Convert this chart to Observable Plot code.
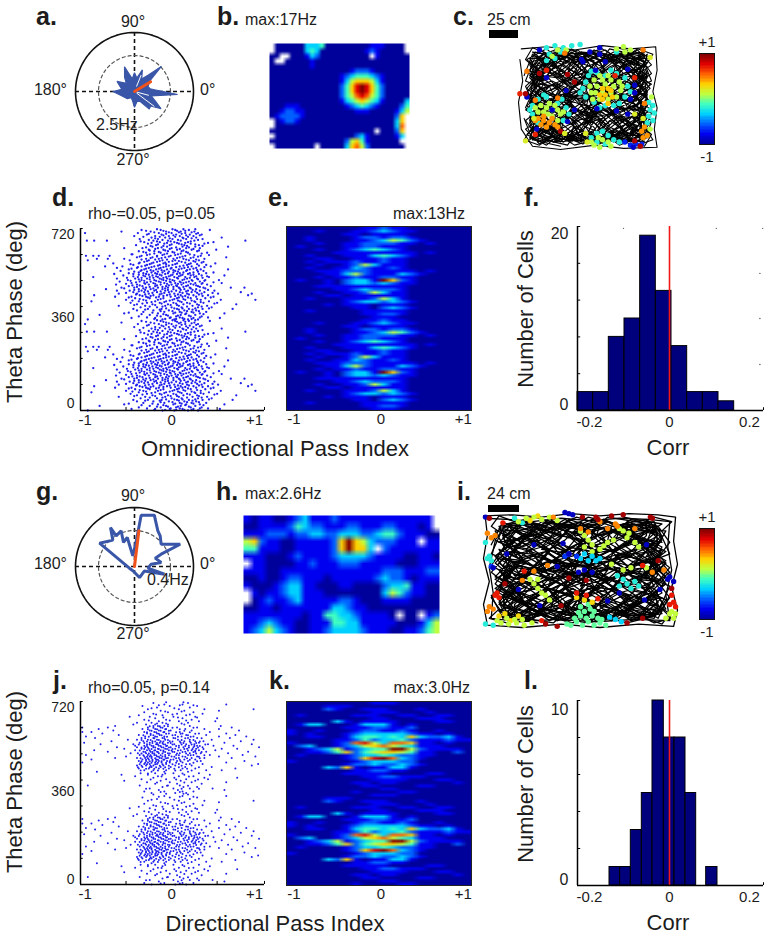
<!DOCTYPE html>
<html><head><meta charset="utf-8">
<script src="https://cdn.jsdelivr.net/npm/d3@7"></script>
<script src="https://cdn.jsdelivr.net/npm/@observablehq/plot@0.6"></script>
<style>
html,body{margin:0;background:#fff}
#page{position:relative;width:769px;height:938px;overflow:hidden;font-family:"Liberation Sans",Arial,sans-serif;color:#1c1c1c}
#page svg{position:absolute;overflow:visible;background:transparent}
.t{position:absolute;white-space:nowrap;line-height:1}
.bar{position:absolute;background:#000}
</style></head><body><div id="page"></div>
<script>
// ---------- polar panels a, g ----------
const polarThetaA=[0,356,345,335,327,318,310,300,285,270,255,240,225,210,195,180,170,150,135,125,112,100,90,80,70,60,50,43,35,20,10,5];
const polarRateA=[2.0,3.0,1.2,1.6,2.2,1.5,1.6,.8,.7,1.1,.6,.5,.7,.8,1.0,1.5,.9,1.4,.8,1.2,1.85,.9,1.3,.95,1.6,1.0,1.5,2.55,1.3,1.0,1.1,1.4];
const polarThetaG=[86,82.6,68.7,66.4,56.8,50,40,26,24.8,22,8.5,8,353,345.7,335,294.4,249,198,146.3,129.4,121.6,120.9,110.5,114.6,104,99];
const polarRateG=[.285,.575,.61,.574,.474,.444,.386,.565,.326,.248,.3,.187,.15,.344,.12,.135,.05,.06,.467,.379,.509,.397,.424,.294,.332,.12];
const vectorA={theta:31,rate:1.31}, vectorG={theta:83,rate:.4};
// ---------- rate maps b, h (digit = colour level, "." = unvisited) ----------
const mapB=[
".00000033340000000001110000.",
".00000034300000000012100000.",
"00..0001320000000000.1000000",
"0..00000100000000000000000000",
"0000000010000000000000000000",
"0000000000000000122210000000",
"0000000000000012344432100000",
"0000000000000013566653100000",
"0000000000000024689864200000",
"0000000000000024689864200000",
"0000000000000024578754200000",
"0000000000000013456543100003",
"0001110000000001234321000024",
"0012211000000000011100000135",
"012222100000000000000000026.",
".01221000000000000000000036.",
".00000000000000000000000037.",
"000000000000000000000.00026.",
".00000000000000002310000013.",
"00000000000000025641000000..",
".00000000.00000367520000000."];
const mapH=[
"10110012311121111111111111.",
"00111124322111221112211101.",
"111222122332233322344211100",
"562110011111269653222111.11",
"441110011111269663.21111111",
"111000121111233332111100110",
".11000011211122211111000111",
"111001111111111111122211122",
"001001221110111111232210111",
"100012331100011000023341100",
".10112331110000000035421100",
".01211231111122100011110000",
"001101111111332110000000000",
"111111110114433211110.00.12",
"112321100111443311111000135",
"123532100112333321110011245"];
// ---------- trajectories c, i: first part runs along the walls, the rest crosses the arena ----------
const wallC="2,5 20,3 40,6 60,2 80,5 98,3 99,25 96,45 99,60 97,80 99,97 75,98 55,95 30,99 10,96 2,80 0,55 3,35 1,15";
const pathC="12,12 25,22 18,35 8,28 15,48 30,40 22,60 10,65 14,82 28,72 40,85 25,92 48,90 38,70 50,60 62,75 55,88 70,90 85,80 72,65 88,55 78,40 92,30 80,18 90,8 70,12 58,25 68,35 50,30 42,15 55,8 35,10 28,28 42,38 32,52 45,48 58,52 48,70 60,62 75,72 65,85 80,92 92,88 85,70 95,62 82,50 70,55 62,42 75,28 88,22 78,8 62,15 48,22 38,32 22,18 10,22 20,42 8,50 18,70 6,85 20,95 32,82 45,92 52,78 42,62 30,75 22,88 35,60 25,50 40,45 52,40 65,50 72,40 85,38 92,48 80,62 68,72 78,85 90,78 96,90 85,95 70,82 58,92 48,82 38,92 28,82 18,90 8,75 16,58 28,62 38,52 50,50 60,60 70,48 80,55 90,42 82,28 70,20 58,12 45,18 32,8 20,12 8,18 18,28 30,20 42,28 55,32 65,22 78,14 92,14 85,30 72,32 60,38 48,35 35,42 24,35 12,40 5,60 15,72 25,80 35,88 45,75 55,70 65,80 75,92 88,85 95,72 85,62 75,55 65,65 55,55 45,62 35,68 25,58 15,52 6,42 14,30 25,12 38,18 50,12 62,6 75,18 88,12 95,35 82,42 70,35 58,45 46,55 34,46 22,52 12,62 20,78 32,92 44,85 54,94 66,88 78,78 90,68 84,46 74,48 64,58 52,65 42,80 30,68 18,82 10,90 4,70";
const wallI="0,3 15,2 30,4 45,1 60,3 75,1 90,2 99,4 98,25 100,45 97,65 100,85 98,99 80,97 60,100 40,97 20,100 2,98 0,80 3,60 0,40 2,20 1,5 12,6 25,8 40,5 55,7 70,5 85,6 96,8 95,30 97,50 94,72 96,94 78,93 58,95 38,93 18,95 4,92 5,70 3,48 6,25";
const pathI="14,14 28,28 18,40 8,32 16,55 32,48 24,68 10,72 18,88 34,78 46,90 30,60 44,52 58,66 48,82 64,88 76,74 62,60 78,52 68,38 84,30 74,16 90,12 72,10 60,22 70,32 54,36 46,18 58,10 38,14 30,30 46,42 36,58 50,54 64,50 54,72 66,66 82,76 72,88 88,92 92,78 84,62 94,56 86,42 74,46 66,34 80,22 92,26 82,10 66,16 52,24 42,34 26,20 12,26 22,44 10,54 20,74 8,86 24,92 36,86 50,92 58,80 46,66 34,80 26,90 40,62 28,52 44,46 56,40 70,52 78,42 90,40 96,52 84,68 72,78 82,90 92,84 97,92 88,96 74,84 62,94 52,84 42,94 32,84 20,92 10,78 18,60 32,66 42,54 54,52 64,62 74,50 84,58 94,44 86,30 74,22 62,14 48,20 36,8 22,14 10,20 20,30 32,22 44,30 56,34 66,24 80,16 94,16 88,34 76,36 64,42 52,46 38,44 26,38 14,44 6,62 16,76 26,84 36,92 46,78 56,72 66,82 76,94 90,88 96,74 86,52 76,58 66,68 56,58 46,64 36,70 26,60 16,54 8,44 16,32 26,14 40,20 52,14 64,8 76,20 90,14 96,36 84,44 72,36 60,46 48,56 36,48 24,54 14,64 22,80 34,94 44,86 54,96 68,90 80,80 92,70 84,48 74,50 64,60 52,68 42,82 30,70 18,84 10,92 4,72";
const spikesC=[
[-.2,"50,30 56,27 62,30 70,28 76,32 78,40 76,50 72,56 62,58 54,55 48,50 46,42 48,36 52,26 66,25 80,45 44,46 58,60 68,58 10,58 14,52 20,50 28,56 34,60 36,66 32,72 10,66 14,74 24,62 8,62 18,48 31,52 20,4 26,2 32,4 38,2 44,1 22,10 30,8 26,14 20,16 70,8 52,88 56,84 60,82 64,86 68,90 72,92 56,92 62,94 93,55 96,58 94,62 97,65 93,68 96,72 92,74"],
[.1,"54,34 60,34 66,34 72,36 73,44 70,50 64,52 58,52 52,46 51,40 56,40 62,38 68,40 60,46 66,46 55,46 58,30 64,30 74,40 53,52 16,58 22,56 28,62 18,64 24,68 30,66 14,64 28,72 12,60 20,60 26,58 32,64 21,66 28,6 34,6 24,12 70,5 75,3 80,6 76,8 54,95 60,90 66,96 52,92 58,97 64,92 57,88 95,50 94,80"],
[.35,"60,42 64,42 62,48 67,50 60,52 64,56 58,48 66,44"],
[.45,"14,70 18,72 22,74 26,76 16,76 20,78 24,70 28,78 18,68 12,72 90,78 88,82 92,86 89,88"],
[-.7,"76,92 80,95 84,94 88,94"],
[-.88,"82,97 15,6 45,15 51,8 58,4 46,17 58,10 62,17 55,25 78,24 20,32 34,44 35,73 24,62 13,80 83,39 83,46 80,52 70,63 78,66 56,61 40,62 6,50"],
[.9,"15,28 35,29 40,36 5,47 30,82 83,91 87,96"],
[.7,"20,25 1,47 12,85 69,30 83,32"],
[.5,"6,26 12,53 28,51 89,6 90,56 33,9"],
[.2,"94,13 11,70 33,84 5,91 48,84 49,92 83,66 89,70"]];
const spikesI=[
[-.05,"45,98 48,95 51,98 54,95 57,98 60,96 63,98 47,92 50,90 53,92 56,90 59,92 52,86 55,84 50,82 54,80 57,86 43,97 61,93 49,87"],
[.3,"52,76 48,74 56,78 8,90 11,88 14,94 18,90 24,7 28,3"],
[-.2,"1,97 5,98 16,5 20,9 1,26 2,40 4,42 3,38 74,62 78,60 72,58 76,66 80,64 70,64 69,55"],
[.12,"9,96 13,97 17,96 21,98 25,96 12,92 16,93 22,5 26,4 30,6 34,4 38,7 18,8 50,16 52,20 54,24 56,28 52,30 56,34 62,29 64,26 60,32 67,24 72,16 75,18 70,14 74,22 78,26 80,30 24,58 26,62 28,66 30,70 32,72 34,76 28,58 66,45 72,50 76,48 84,48 96,88 94,92 98,92 97,86 99,88 7,94 20,93"],
[.48,"50,14 54,17 64,14 68,10 60,8 2,18 4,22 6,20 3,82 5,84 2,86 26,51 33,46 87,52 93,50 69,12 78,14 20,59 36,4"],
[-.32,"52,36 56,38 50,40 54,42 58,42 60,40 68,93 71,95 65,91"],
[-.65,"44,36 42,38 48,38 4,47"],
[-.9,"52,50 56,52 49,52 44,1 42,0 46,2 96,56 98,60 95,58 12,36 26,28 41,27 44,36 38,47 18,67 29,81 64,77 70,70 83,76 91,67 84,28 5,48 1,4"],
[.72,"10,9 30,94 98,78 96,80 99,82 7,70 8,74 6,72 48,70 53,72 21,51 82,46 97,72 59,75"],
[.92,"51,4 58,4 66,3 72,2 86,4 59,6 3,5 11,62 44,57 53,59 90,42 97,66 40,81 32,97 38,99 74,96 82,92 87,5"]];
// ---------- pass-index scatter d, j: [phase, pass index x100 ...] for one theta cycle, drawn over two cycles ----------
const scatterD=[[0,-92,-10,3,18,29],[6,-44,-18,-2,12,24,53],[12,-36,-12,5,21,33],[18,-24,-6,10,26,-79],[24,-52,-15,2,16,31,58],[30,-31,-8,9,22,38],[36,-20,-3,14,27,-38],[42,-42,-26,-11,6,19,34,67],[48,-34,-16,0,11,29,44],[54,-58,-29,-7,8,23,39],[60,-38,-21,-4,13,28,71],[66,-45,-27,-13,2,17,35,50],[72,-36,-18,-6,9,25,41,-88],[78,-50,-31,-15,1,15,32,54,92],[84,-40,-24,-9,6,21,37],[90,-62,-44,-28,-14,-1,12,27,46],[96,-35,-20,-5,10,24,40,-85,84],[102,-58,-38,-25,-11,3,17,33,51,88],[108,-42,-30,-16,-3,9,22,36,76],[114,-60,-46,-33,-19,-7,5,18,31,47],[120,-36,-23,-10,2,14,27,-72],[126,-55,-41,-28,-15,-4,8,20,35,65,80],[132,-47,-32,-18,-6,6,16,29,43],[138,-61,-38,-25,-12,0,11,24,39],[144,-44,-30,-20,-8,4,13,26,34,55],[150,-57,-35,-23,-14,-2,9,19,31],[156,-48,-33,-19,-9,1,12,22,37,52],[162,-60,-40,-27,-13,-5,7,17,28],[168,-37,-24,-15,-6,3,15,25,41,-86],[174,-53,-31,-21,-11,-1,10,21,33,58],[180,-63,-42,-28,-16,-7,6,18,30],[186,-36,-22,-10,2,13,24,46],[192,-56,-34,-20,-8,4,16,35],[198,-47,-30,-17,-5,8,20,32,62],[204,-60,-38,-25,-12,0,14,27],[210,-54,-33,-19,-6,9,22,43,-73],[216,-42,-27,-13,1,17,38],[222,-64,-36,-22,-9,6,21,48],[228,-30,-16,-3,11,26,35],[234,-46,-25,-10,4,19,30,-92],[240,-52,-28,-14,2,13,36,-82,-70],[246,-38,-21,-7,9,24,60],[252,-94,-86,-80,-68,-33,-16,-1,15,32],[258,-43,-24,-8,7,20,-44],[264,-28,-12,3,18,39],[270,-36,-19,-4,11,28],[276,-25,-9,6,22,49],[282,-32,-15,0,16,31,-52],[288,-21,-5,12,26,62],[294,-39,-17,-2,14,30],[300,-26,-8,8,21,36],[306,-30,-13,3,18,46],[312,-93,-85,-71,-20,-4,10,25,81],[318,-35,-15,1,16,34],[324,-22,-7,12,27,55],[330,-41,-18,-3,9,24],[336,-27,-11,5,20,33],[342,-37,-14,0,15,29,-95],[348,-23,-6,10,25,-55],[354,-33,-12,4,19,42],
[2,-7,5,14,-19,22],[8,-27,-1,9,31,40],[15,-16,-4,7,19],[21,-33,-9,15,35],[27,-21,4,11,24,-47],[33,-12,1,17,30],[39,-29,-13,8,23],[44,-6,3,12,26,41],[51,-24,-10,17,33],[57,-41,-18,-1,6,30],[63,-32,-11,5,20,47],[69,-22,-8,11,26,32],[75,-43,-28,-2,7,22],[81,-35,-12,3,13,28],[87,-47,-26,-17,8,18,43],[93,-32,-23,-9,4,15,34],[99,-39,-29,-13,-2,7,19,30],[105,-50,-21,-8,12,28,45],[111,-36,-26,-12,0,16,26],[117,-41,-29,-17,-4,10,23,40],[123,-52,-31,-20,-7,9,21,37],[129,-38,-24,-10,2,13,31],[135,-43,-35,-16,-3,5,18,27],[141,-50,-29,-18,-5,7,21,33],[147,-39,-27,-12,-1,10,16,46],[153,-45,-30,-17,-6,3,23,36],[159,-36,-24,-11,-2,14,29],[165,-49,-33,-20,-9,6,20,34],[171,-42,-29,-17,-3,8,27,39],[177,-36,-25,-13,1,12,24],[183,-47,-31,-18,-4,9,20,38],[189,-41,-27,-15,-3,7,29],[195,-33,-23,-11,2,17,28],[201,-44,-28,-14,-1,11,24],[207,-37,-22,-9,5,18,36],[213,-29,-15,-3,13,30],[219,-45,-24,-6,4,19,28],[225,-35,-20,-7,15,33],[231,-27,-13,1,8,24],[237,-33,-18,-5,16,27],[243,-23,-11,6,21],[249,-35,-16,-3,12,29],[255,-27,-10,4,25,41],[261,-19,-5,10,33],[267,-31,-14,1,16],[273,-24,-7,13,30],[279,-18,-2,9,24],[285,-28,-11,5,19],[291,-23,-9,17,34],[297,-15,0,11,26],[303,-22,-5,6,15,40],[309,-34,-16,-1,21],[315,-25,-10,7,29],[321,-18,-2,13,22],[327,-31,-13,4,18],[333,-9,2,16,31],[339,-25,-6,11,27],[345,-19,-3,8,22],[351,-28,-9,6,15],[357,-16,1,13,26]];
const scatterJ=[[0,-22,4,16],[6,-30,-8,12,24],[12,-14,7,58],[18,-24,2,20,45],[24,-10,13,28],[30,-35,-4,9,-92],[36,-18,6,33],[42,-27,-2,22,60],[48,-12,10,26,-52],[54,-33,-6,16,40],[60,-20,3,36,72],[66,-40,-15,8,24],[72,-26,-10,14,42,-55],[78,-34,-18,2,30],[84,-22,-8,18,-82],[90,-30,-20,-6,10,38,55],[96,-36,-25,-14,-3,12,26,70],[102,-32,-22,-12,-1,15,44],[108,-38,-28,-20,-9,4,22,88],[114,-30,-24,-16,-6,8,20,34,95],[120,-34,-26,-18,-11,-2,12,60,-98],[126,-36,-28,-21,-14,-5,6,18,32,80],[132,-32,-25,-17,-8,2,14,26,-88],[138,-38,-29,-22,-13,-4,8,22,36,66,-62],[144,-30,-24,-16,-10,0,12,28,52,92,-50],[150,-35,-26,-19,-7,5,18,24,42,78,-94],[156,-37,-28,-21,-14,-4,9,20,32,62,-45],[162,-31,-23,-16,-9,1,15,26,38,84,-70],[168,-40,-27,-18,-12,-3,10,22,30,48,-85],[174,-33,-25,-15,-7,4,17,27,55,72,-52],[180,-38,-29,-20,-11,-1,13,24,34,96,-60],[186,-30,-22,-14,-5,8,19,28,46,68,-40],[192,-42,-27,-17,-9,3,16,25,40,88,-78],[198,-35,-24,-13,-4,10,21,30,58,-96],[204,-31,-21,-12,-2,14,26,35,76,-66],[210,-38,-26,-16,-7,7,20,44,90,-48],[216,-33,-20,-10,2,18,28,64,-84],[222,-29,-18,-8,11,24,52,82,-94],[228,-36,-23,-13,4,16,38,70,-58],[234,-27,-16,-3,12,30,60,-76],[240,-30,-19,-8,9,42,-88,-98],[246,-24,-14,-1,22,74,-64],[252,-32,-18,-6,15,36,52,-80],[258,-26,-12,6,28,66,-98,-70],[264,-20,-15,-8,20,54,-62],[270,-28,-18,-4,14,-42],[276,-22,-10,18,-38],[282,-14,8,30,48],[288,-30,-6,22],[294,-18,12,50],[300,-24,2,26,-46],[306,-10,16,-36],[312,-20,6,34],[318,-30,-4,24],[324,-12,14,52],[330,-26,8,36,90],[336,-16,20],[342,-32,-2,28],[348,-8,12,60],[354,-20,18],
[4,-12,9],[17,-28,11,30],[29,-5,18],[41,-16,14],[53,-23,5,29],[65,-11,19],[77,-26,-7,12],[89,-34,-15,4,22],[95,-28,-19,-9,3,17],[101,-37,-24,-17,-7,8,30],[107,-33,-23,-13,-3,11],[113,-35,-27,-18,-10,1,16],[119,-29,-22,-15,-6,5,24],[125,-33,-24,-17,-11,-2,10,28],[131,-28,-21,-15,-9,-1,9,20],[137,-34,-26,-18,-11,-6,5,17,31],[143,-27,-22,-14,-7,3,15,30],[149,-31,-23,-17,-12,-3,8,21,36],[155,-33,-25,-19,-10,-2,6,16,27],[161,-29,-21,-15,-7,3,12,24,33],[167,-35,-24,-19,-9,0,7,18,26],[173,-30,-22,-14,-5,1,14,23,35],[179,-33,-26,-18,-9,-3,8,19,29],[185,-27,-20,-12,-6,5,15,25,31],[191,-36,-24,-15,-7,1,11,22,37],[197,-30,-21,-16,-10,-1,13,27],[203,-27,-18,-9,1,9,20,31],[209,-33,-23,-14,-4,11,24],[215,-29,-19,-8,4,15,33],[221,-25,-16,-5,7,21],[227,-31,-20,-11,1,18],[233,-23,-14,-6,10,26],[239,-27,-17,-9,5,20],[245,-22,-12,-3,14],[251,-26,-16,-7,9],[257,-20,-10,1,24],[263,-24,-13,-4],[273,-16,-6,11],[285,-25,-2,16],[297,-9,7,28],[309,-17,1,20],[321,-7,11],[333,-22,3],[345,-14,9,24],[357,-6,13]];
// ---------- phase/pass rate maps e, k: one theta cycle, drawn over two cycles ----------
const rateE=["00000 00011 21100 00000","00010 00112 32110 00000","00000 01101 11100 00000","00100 00122 12210 00000","00100 00112 35421 00000","00010 01122 22110 10000","01000 01122 11100 00000","00010 01234 32100 00000","00000 11111 11110 10000","00100 01113 43210 00000","00011 00111 21100 00000","00101 11211 21100 00000","00010 01253 11100 00000","00100 11321 12100 00000","00011 12221 11110 10000","00001 13521 11321 00000","00010 11211 22110 00000","01001 02331 96210 00000","00001 02332 32110 00000","00011 11111 11100 00000","00000 11232 22100 00000","00010 01125 31100 00000","00001 10111 11100 00000","00100 01112 53100 00000","00000 01233 23210 00000","00001 01110 11100 00000","00000 00110 23210 00000","00100 00011 11100 00000","00000 00011 22100 00000","00000 00001 11000 00000"];
const rateK=["00000 00001 11000 00000","00001 11000 00000 00000","00002 10011 10001 00000","00000 00001 11000 10000","01000 00111 00110 01100","00000 00001 10001 11000","00000 31011 11000 01100","01330 00133 31010 00000","00000 01112 21120 00000","10010 00122 11210 01000","10100 01233 33321 10100","00110 01344 34363 22310","00000 11242 33421 11211","10000 12785 37761 10100","02300 12356 75431 11000","00123 51234 49952 11110","00112 46245 66541 10020","01000 01233 43221 10000","00000 01268 97321 00000","10000 00123 33220 00000","00000 01223 22321 00000","00003 26101 13310 00000","00000 00112 21100 00000","00000 01111 10000 11000","00000 00011 22111 00000","00000 00001 11100 01100","00000 00110 11000 00010","00000 00011 00001 10000","00000 00000 11000 00000","00000 00100 00110 00000"];
// ---------- histograms f, l ----------
const edgesF=[-.23,-.1908,-.1517,-.1125,-.0733,-.0342,.005,.0442,.0833,.1225,.1617];
const countsF=[2,2,8,10,19,13,7,2,2,1];
const edgesL=[-.15,-.1233,-.0967,-.0692,-.0425,-.0142,.0125,.04,.0667,.0917,.12];
const countsL=[1,1,3,5,10,8,8,5,0,1];
const passTicks=[["-1",-.95],["0",0],["+1",.91]];
const rateTicks=[["-1",-.92],["0",.02],["+1",.91]];
const corrTicks=[["-0.2",-.2],["0",0],["0.2",.2]];
const phaseTicks=[["0",28],["360",366],["720",697]];
const phaseTicksJ=[["0",20],["360",366],["720",696]];
const cellTicksF=[["0",.65],["20",19.2]], cellTicksL=[["0",.32],["10",9.5]];
const phaseMinor=[0,103,206,309,411,514,617,720];

// ---------- shared ----------
const page=document.getElementById("page");
const BG={fontFamily:"'Liberation Sans',Arial,sans-serif",fontSize:"14px",color:"#1c1c1c",background:"transparent",overflow:"visible"};
const jet={type:"linear",domain:[0,1,2,3,4,5,6,7,8,9],range:["#00009a","#0000f0","#0060ff","#00d0ff","#40ffc0","#c0ff40","#ffd000","#ff6000","#e00000","#800000"]};
function place(opts,left,top){const s=Plot.plot({style:BG,...opts});s.style.left=left+"px";s.style.top=top+"px";page.appendChild(s);return s;}
const digits=rows=>rows.flatMap(r=>[...r.replace(/ /g,"")].map(c=>c==="."?NaN:+c));
const lookup=t=>{const m=new Map(t.map(([s,v])=>[v,s]));return d=>m.get(d);};
const tickAt=t=>t.map(d=>d[1]);
const rad=d=>d*Math.PI/180;

function polar(theta,rate,vec,dashHz,filled,cx,cy,spokes){
  const R=59,rmax=dashHz*R/36,ring=d3.range(0,361,3);
  const pts=[...theta.map((t,i)=>({t,r:rate[i]})),{t:theta[0],r:rate[0]}];
  const X=d=>d.r*Math.cos(rad(d.t)),Y=d=>d.r*Math.sin(rad(d.t));
  place({width:2*R,height:2*R,margin:0,x:{domain:[-rmax,rmax],axis:null},y:{domain:[-rmax,rmax],axis:null},marks:[
    Plot.ruleX([0],{stroke:"#111",strokeWidth:1.6,strokeDasharray:"4,3"}),
    Plot.ruleY([0],{stroke:"#111",strokeWidth:1.6,strokeDasharray:"4,3"}),
    Plot.line(ring,{x:t=>dashHz*Math.cos(rad(t)),y:t=>dashHz*Math.sin(rad(t)),stroke:"#555",strokeWidth:1.2,strokeDasharray:"3,3"}),
    Plot.line(ring,{x:t=>rmax*Math.cos(rad(t)),y:t=>rmax*Math.sin(rad(t)),stroke:"#111",strokeWidth:1.6}),
    Plot.line(pts,{x:X,y:Y,stroke:"#3a56a8",strokeWidth:filled?1.2:3,fill:filled?"#3a56a8":"none",curve:"linear",strokeLinejoin:"miter"}),
    ...(spokes||[]).map(s=>Plot.line([{t:s[0],r:s[1]},{t:s[0],r:s[2]}],{x:X,y:Y,stroke:"#fff",strokeWidth:1})),
    Plot.line([{t:vec.theta,r:0},{t:vec.theta,r:vec.rate}],{x:X,y:Y,stroke:"#f0521c",strokeWidth:3})
  ]},cx-R,cy-R);
}
polar(polarThetaA,polarRateA,vectorA,2.5,true,133.5,91,[[323,.2,1.7],[68,.4,1.2],[345,.2,1.0]]);
polar(polarThetaG,polarRateG,vectorG,.4,false,133.5,565.5);

function raster(vals,w,h,frame,fw,fh,left,top,ticks){
  const tdom=[-1,1];
  place({width:fw,height:fh,margin:0,color:jet,x:{domain:[0,w],axis:null},y:{domain:[0,h],range:[0,fh],axis:null},marks:[
    Plot.raster(vals,{width:w,height:h,x1:0,y1:0,x2:w,y2:h,imageRendering:"auto"}),
    ...(frame?[Plot.frame({stroke:"#222",strokeWidth:1})]:[])
  ]},left,top);
  if(ticks) place({width:fw,height:fh,margin:0,x:{domain:tdom},y:{domain:[0,1],axis:null},marks:[
    Plot.axisX({ticks:tickAt(ticks),tickFormat:lookup(ticks),tickSize:0,tickPadding:3,fontSize:15,label:null})
  ]},left,top);
}
raster(digits(mapB.map(r=>r.slice(0,28).padEnd(28,"."))),28,21,false,140,105,269,43);
raster(digits(mapH),27,16,false,196,118,243,515);
const twoCycles=rows=>digits([...rows,...rows]);
raster(twoCycles(rateE),20,60,true,185,184,286,226,rateTicks);
raster(twoCycles(rateK),20,60,true,185,184,286,701,rateTicks);

function pairs(s){return s.split(" ").map(p=>p.split(",").map(Number));}
function track(wall,path,groups,fw,fh,left,top,sw){
  const dots=groups.flatMap(([v,s])=>pairs(s).map(([x,y])=>({x,y,c:(v+1)/2*9})));
  const P=pairs(path),W=pairs(wall);
  const line=(x,y)=>Plot.line(P,{x,y,stroke:"#000",strokeWidth:sw});
  place({width:fw,height:fh,margin:0,color:jet,x:{domain:[0,100],axis:null},y:{domain:[100,0],axis:null},marks:[
    Plot.line(W,{x:"0",y:"1",stroke:"#000",strokeWidth:sw}),
    line("0","1"),
    line(d=>100-d[0],"1"),
    line("0",d=>100-d[1]),
    line("1","0"),
    line(d=>100-d[1],d=>100-d[0]),
    Plot.dot(dots,{x:"x",y:"y",fill:"c",r:2.7})
  ]},left,top);
}
track(wallC,pathC,spikesC,140,107,518,43,1.1);
track(wallI,pathI,spikesI,194,115,483,512,1.3);

function colorbar(left,top){
  const vals=d3.range(64).map(i=>9-i*9/63);
  place({width:15,height:91,margin:0,color:jet,x:{domain:[0,1],axis:null},y:{domain:[0,64],range:[0,91],axis:null},marks:[
    Plot.raster(vals,{width:1,height:64,x1:0,y1:0,x2:1,y2:64,imageRendering:"pixelated"}),
    Plot.frame({stroke:"#111",strokeWidth:1})
  ]},left,top);
}
colorbar(699,53);colorbar(699,528);

function scatter(rows,left,top,fh,labelT,r){
  const one=rows.flatMap(([p,...xs])=>xs.map(x=>({x:x/100,p})));
  const all=[...one,...one.map(d=>({x:d.x,p:d.p+360}))];
  place({width:184,height:fh,margin:0,x:{domain:[-1,1.02],axis:null},y:{domain:[0,720],axis:null},marks:[
    Plot.dot(all,{x:"x",y:"p",r,fill:"#1f1fee"}),
    Plot.ruleX([-1],{stroke:"#000",strokeWidth:1.5}),
    Plot.ruleY([0],{stroke:"#000",strokeWidth:1.5}),
    Plot.ruleY(phaseMinor,{x1:-1,x2:-.97,stroke:"#000"}),
    Plot.ruleX([-.5,.5,1.02],{y1:0,y2:12,stroke:"#000"}),
    Plot.axisX({ticks:tickAt(passTicks),tickFormat:lookup(passTicks),tickSize:0,tickPadding:4,fontSize:15,label:null}),
    Plot.axisY({ticks:tickAt(labelT),tickFormat:lookup(labelT),tickSize:0,tickPadding:6,fontSize:14,label:null})
  ]},left,top);
}
scatter(scatterD,80,228,182,phaseTicks,1.15);
scatter(scatterJ,80,701,183,phaseTicksJ,1.0);

function hist(edges,counts,ymax,ticks,top,fh,ghost){
  const bars=counts.map((c,i)=>({x1:edges[i],x2:edges[i+1],c})).filter(d=>d.c>0);
  const minor=d3.range(0,ymax+.01,ymax/5);
  place({width:186,height:fh,margin:0,x:{domain:[-.23,.235],axis:null},y:{domain:[0,ymax],axis:null},marks:[
    Plot.rectY(bars,{x1:"x1",x2:"x2",y1:0,y2:"c",fill:"#00007c",stroke:"#000",strokeWidth:1}),
    Plot.ruleX([0],{stroke:"#f01818",strokeWidth:1.6}),
    Plot.ruleX([-.23],{stroke:"#000",strokeWidth:1.5}),
    Plot.ruleY([0],{stroke:"#000",strokeWidth:1.5}),
    Plot.ruleY(minor,{x1:-.23,x2:-.222,stroke:"#000"}),
    Plot.ruleX([.235],{y1:0,y2:ymax*.015,stroke:"#000"}),
    ...(ghost?[Plot.dot(ghost,{x:"0",y:"1",r:.7,fill:"#555"})]:[]),
    Plot.axisX({ticks:tickAt(corrTicks),tickFormat:lookup(corrTicks),tickSize:0,tickPadding:6,fontSize:15,label:null}),
    Plot.axisY({ticks:tickAt(ticks),tickFormat:lookup(ticks),tickSize:0,tickPadding:9,fontSize:16,label:null})
  ]},577,top);
}
hist(edgesF,countsF,20,cellTicksF,226,184,[[-.115,19.8],[.117,19.8],[.233,19.8],[.226,14.9],[.226,10],[.226,5]]);
hist(edgesL,countsL,10,cellTicksL,700,185);

// ---------- text ----------
const B=22,T=16,L=25;
const texts=[
["a.",36,16,L,"start",700],["b.",217,16,L,"start",700],["c.",453,16,L,"start",700],
["d.",52,197,L,"start",700],["e.",268,197,L,"start",700],["f.",524,197,L,"start",700],
["g.",36,491,L,"start",700],["h.",216,491,L,"start",700],["i.",457,491,L,"start",700],
["j.",53,680,L,"start",700],["k.",269,680,L,"start",700],["l.",524,680,L,"start",700],
["90°",133,22,T,"middle"],["180°",67,90,T,"end"],["0°",200,90,T,"start"],["270°",133,160,T,"middle"],["2.5Hz",96,125,T,"start"],
["90°",133,496,T,"middle"],["180°",67,564,T,"end"],["0°",200,564,T,"start"],["270°",133,634,T,"middle"],["0.4Hz",147,580,T,"start"],
["max:17Hz",245,20,16,"start"],["max:2.6Hz",245,494,16,"start"],
["25 cm",487,20,16,"start"],["24 cm",487,494,16,"start"],
["+1",707,41,15,"middle"],["-1",707,156,15,"middle"],["+1",707,516,15,"middle"],["-1",707,631,15,"middle"],
["rho-=0.05, p=0.05",88,214,16,"start"],["rho=0.05, p=0.14",88,688,16,"start"],
["max:13Hz",465,214,16,"end"],["max:3.0Hz",470,688,16,"end"],
["Omnidirectional Pass Index",275,449,B,"middle"],["Directional Pass Index",275,924,B,"middle"],
["Corr",668,448,B,"middle"],["Corr",668,923,B,"middle"],
["Theta Phase (deg)",15,312,22,"rot"],["Theta Phase (deg)",15,782,22,"rot"],
["Number of Cells",526,309,22,"rot"],["Number of Cells",526,784,22,"rot"]];
for(const [s,x,y,size,a,w] of texts){
  const d=document.createElement("div");d.className="t";d.textContent=s;
  d.style.cssText=`left:${x}px;top:${y}px;font-size:${size}px;font-weight:${w||400};transform:${
    a==="rot"?"translate(-50%,-50%) rotate(-90deg)":a==="middle"?"translate(-50%,-50%)":a==="end"?"translate(-100%,-50%)":"translateY(-50%)"}`;
  page.appendChild(d);
}
for(const [x,y,w,h] of [[489,30,29,8],[488,505,31,7]]){
  const d=document.createElement("div");d.className="bar";d.style.cssText=`left:${x}px;top:${y}px;width:${w}px;height:${h}px`;page.appendChild(d);
}
</script></body></html>
